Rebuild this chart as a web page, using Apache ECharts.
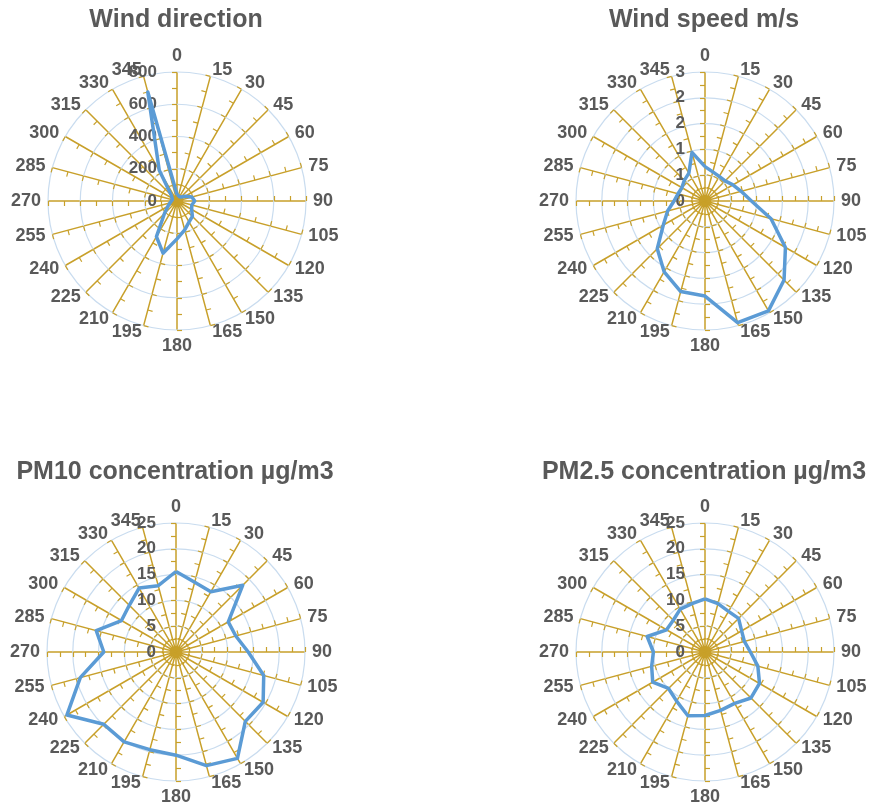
<!DOCTYPE html>
<html>
<head>
<meta charset="utf-8">
<script src="https://cdn.jsdelivr.net/npm/echarts@6/dist/echarts.min.js"></script>
<style>
  html, body { margin: 0; padding: 0; background: #ffffff; }
  #main { width: 872px; height: 808px; }
</style>
</head>
<body>
<div id="main"></div>
<script>
// Compass directions in degrees, clockwise from north
const directions = ['0', '15', '30', '45', '60', '75', '90', '105', '120', '135', '150', '165',
                    '180', '195', '210', '225', '240', '255', '270', '285', '300', '315', '330', '345'];

// Values per direction, in the same order as `directions`
const windDirection = [40, 35, 30, 35, 60, 95, 110, 95, 105, 135, 150, 185,
                       235, 335, 255, 110, 65, 45, 35, 30, 35, 50, 220, 700];
const windSpeed = [0.8, 0.7, 0.66, 0.66, 0.75, 0.87, 1.08, 1.59, 2.16, 2.6, 2.95, 2.93,
                   2.21, 2.18, 1.9, 1.57, 1.12, 0.9, 0.72, 0.65, 0.62, 0.68, 0.75, 1.17];
const pm10 = [15.6, 14, 13.5, 18.3, 11.7, 12, 14, 17.6, 19.5, 19, 23.8, 22.8,
              20, 19.6, 20.1, 19.8, 24.4, 19.2, 14, 16, 12.2, 12.8, 14.3, 13.3];
const pm25 = [10.3, 9.7, 9.1, 9.2, 8.2, 7.9, 8.8, 10.6, 12.2, 12.6, 11.5, 11.7,
              12.3, 12.8, 11, 10, 11.7, 10.7, 10, 11.6, 8.6, 8.7, 9.6, 9.7];

// Titles and radial scales
const titles = ['Wind direction', 'Wind speed m/s', 'PM10 concentration µg/m3', 'PM2.5 concentration µg/m3'];
const scaleMax = [800, 3, 25, 25];
const scaleSteps = [4, 5, 5, 5];

const seriesValues = [windDirection, windSpeed, pm10, pm25];
const centers = [[177, 201], [705, 201], [176, 652], [705, 652]];
const titleTops = [3, 3, 455, 455];

const FONT = 'Liberation Sans';
const TEXT = '#595959';
const GOLD = '#C8A02A';
const RING = '#C9DCEF';
const LINE = '#5B9BD5';
const RADIUS = 129;

// ECharts lays radar indicators out counter-clockwise; walk the
// directions backwards so they read clockwise from the top.
const order = [0];
for (let k = directions.length - 1; k >= 1; k--) order.push(k);

const radars = [];
const polars = [];
const angleAxes = [];
const radiusAxes = [];
const series = [];
const title = [];

centers.forEach(function (c, i) {
  const max = scaleMax[i];
  title.push({
    text: titles[i],
    left: c[0] - 6,
    top: titleTops[i],
    textAlign: 'center',
    textStyle: { fontFamily: FONT, fontSize: 25, fontWeight: 'bold', color: TEXT }
  });

  // spokes: one radial split line every 15 degrees
  polars.push({ center: c, radius: RADIUS });
  angleAxes.push({
    polarIndex: i,
    type: 'value',
    min: 0,
    max: 360,
    interval: 15,
    startAngle: 90,
    clockwise: true,
    axisLine: { show: false },
    axisTick: { show: false },
    axisLabel: { show: false },
    splitLine: { show: true, lineStyle: { color: GOLD, width: 1.5 } }
  });
  radiusAxes.push({
    polarIndex: i,
    type: 'value',
    min: 0,
    max: max,
    axisLine: { show: false },
    axisTick: { show: false },
    axisLabel: { show: false },
    splitLine: { show: false }
  });

  // tick marks at every half step along every spoke
  radars.push({
    center: c,
    radius: RADIUS,
    startAngle: 90,
    shape: 'circle',
    splitNumber: scaleSteps[i] * 2,
    axisName: { show: false },
    indicator: order.map(function () { return { name: '', min: 0, max: max }; }),
    axisLine: { show: false },
    splitLine: { show: false },
    splitArea: { show: false },
    axisTick: { show: true, length: 5, lineStyle: { color: GOLD, width: 1.2 } },
    axisLabel: { show: false }
  });

  // grid circles, direction names and the value labels on the north spoke
  radars.push({
    center: c,
    radius: RADIUS,
    startAngle: 90,
    shape: 'circle',
    splitNumber: scaleSteps[i],
    nameGap: 7,
    axisName: { color: TEXT, fontFamily: FONT, fontSize: 18, fontWeight: 'bold' },
    indicator: order.map(function (k, j) {
      const ind = { name: directions[k], min: 0, max: max };
      if (j === 0) ind.axisLabel = { show: true };
      return ind;
    }),
    axisLine: { show: false },
    splitLine: { show: true, lineStyle: { color: RING, width: 1.2 } },
    splitArea: { show: false },
    axisTick: { show: false },
    axisLabel: {
      show: false,
      color: TEXT,
      fontFamily: FONT,
      fontSize: 17,
      fontWeight: 'bold',
      margin: 20,
      formatter: function (v) { return String(Math.round(v)); }
    }
  });

  series.push({
    type: 'radar',
    radarIndex: i * 2 + 1,
    symbol: 'none',
    z: 5,
    lineStyle: { color: LINE, width: 3.5 },
    itemStyle: { color: LINE },
    data: [{ value: order.map(function (k) { return seriesValues[i][k]; }) }]
  });
});

const chart = echarts.init(document.getElementById('main'), null, { renderer: 'canvas' });
chart.setOption({
  animation: false,
  backgroundColor: '#ffffff',
  title: title,
  polar: polars,
  angleAxis: angleAxes,
  radiusAxis: radiusAxes,
  radar: radars,
  series: series
});
</script>
</body>
</html>
